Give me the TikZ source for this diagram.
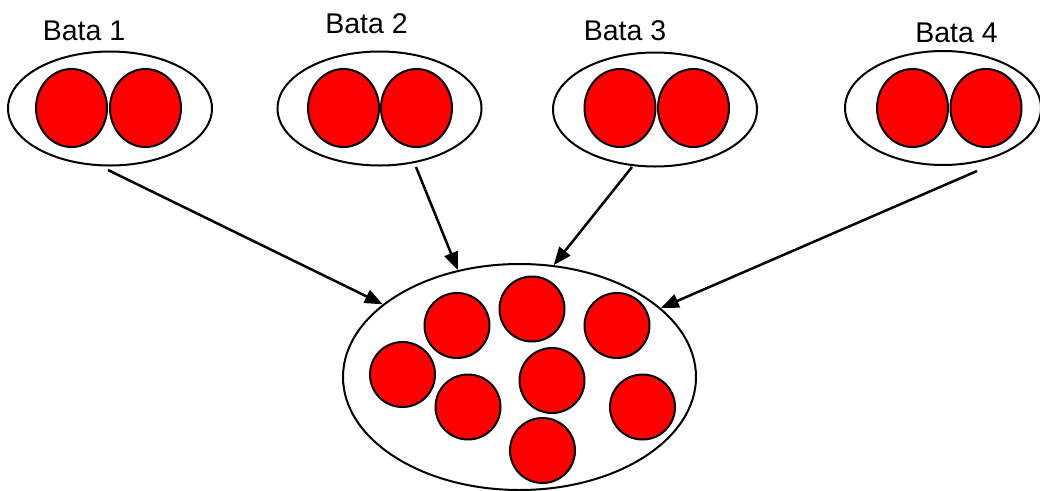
\documentclass[tikz,border=0pt]{standalone}
\usepackage{fontspec}
\setmainfont{Liberation Sans}
\usetikzlibrary{shapes.geometric,arrows.meta}
\definecolor{ballred}{RGB}{255,0,0}
\tikzset{
  outer/.style={draw=black,line width=2pt,ellipse,inner sep=0pt,minimum width=204pt,minimum height=114pt},
  pairball/.style={draw=black,fill=ballred,line width=2pt,ellipse,inner sep=0pt,minimum width=71pt,minimum height=78pt},
  ball/.style={draw=black,fill=ballred,line width=2pt,circle,inner sep=0pt,minimum size=65pt},
  lbl/.style={font=\fontsize{28.5pt}{31pt}\selectfont,inner sep=0pt},
  conn/.style={line width=2.5pt,-{Triangle[length=18pt,width=14pt]}}
}
\begin{document}
\begin{tikzpicture}[x=1pt,y=1pt]
\useasboundingbox (0,0) rectangle (1040,-490);
% top groups
\node[outer] (e1) at (110,-108.5) {};
\node[pairball] (b11) at (71.5,-108) {};
\node[pairball] (b12) at (145.5,-108) {};
\node[lbl] (t1) at (84,-30.5) {Bata 1};

\node[outer] (e2) at (379.5,-108.5) {};
\node[pairball] (b21) at (343.5,-108) {};
\node[pairball] (b22) at (416.5,-108) {};
\node[lbl] (t2) at (366.5,-24) {Bata 2};

\node[outer] (e3) at (655,-109.5) {};
\node[pairball] (b31) at (620,-108) {};
\node[pairball] (b32) at (693.5,-108) {};
\node[lbl] (t3) at (625,-30.5) {Bata 3};

\node[outer,minimum width=196pt] (e4) at (943,-108) {};
\node[pairball] (b41) at (912.5,-108) {};
\node[pairball] (b42) at (986,-108) {};
\node[lbl] (t4) at (956.5,-33) {Bata 4};

% bottom group
\node[outer,minimum width=353pt,minimum height=226pt] (big) at (519.5,-377) {};
\node[ball] (c1) at (457,-325.5) {};
\node[ball] (c2) at (532,-309) {};
\node[ball] (c3) at (617,-325.5) {};
\node[ball] (c4) at (402.5,-374.5) {};
\node[ball] (c5) at (468,-407) {};
\node[ball] (c6) at (552,-380.5) {};
\node[ball] (c7) at (642.5,-407) {};
\node[ball] (c8) at (542.5,-450.5) {};

% arrows
\coordinate (s1) at (108,-170);
\coordinate (s2) at (416,-167);
\coordinate (s3) at (632,-167);
\coordinate (s4) at (977,-171);
\draw[conn] (s1) -- (big.152);
\draw[conn] (s2) -- (big.120);
\draw[conn] (s3) -- (big.73.6);
\draw[conn] (s4) -- (big.26);
\end{tikzpicture}
\end{document}
